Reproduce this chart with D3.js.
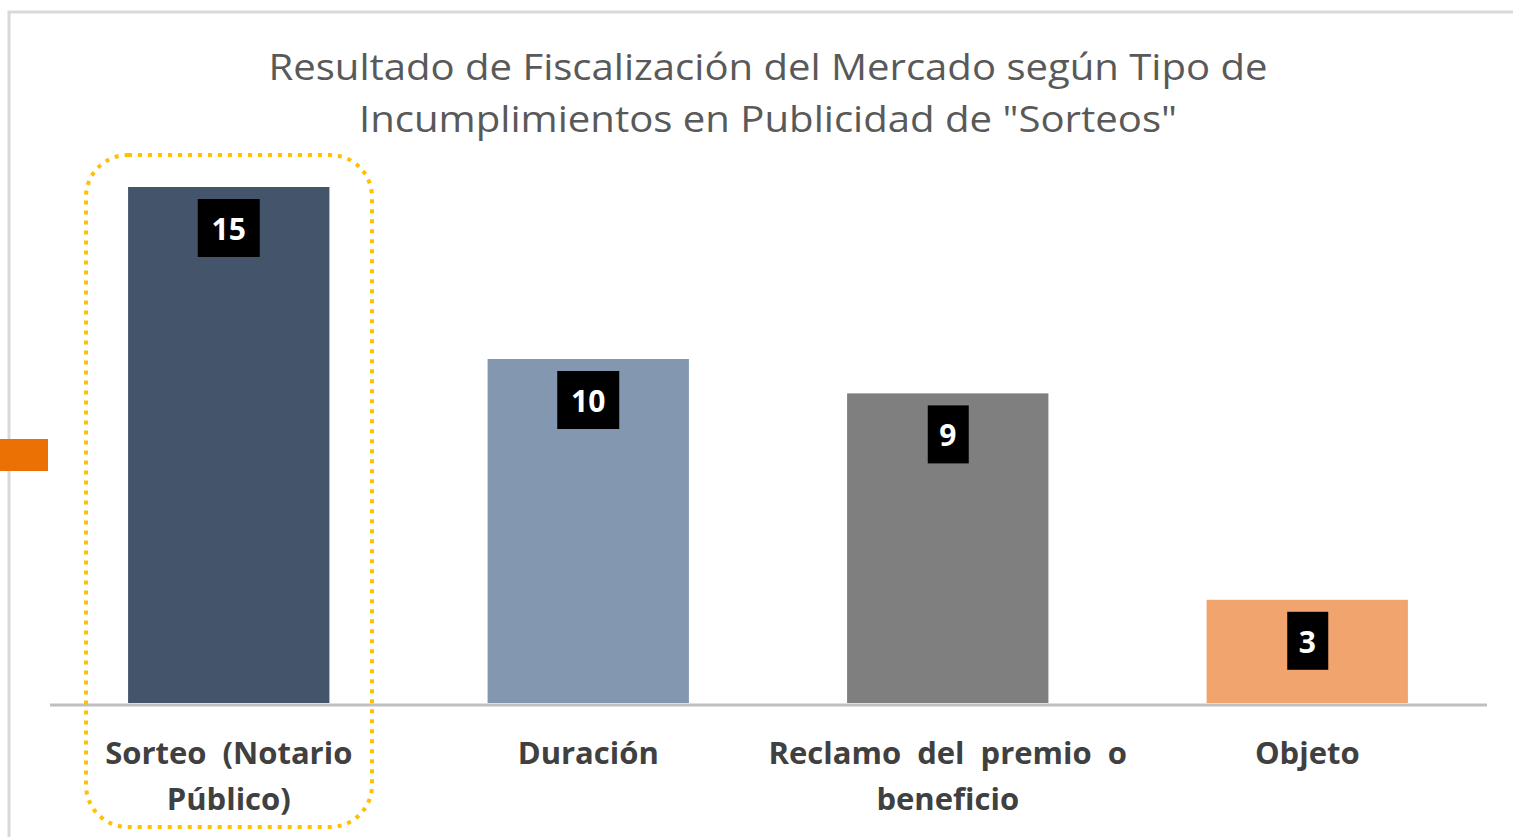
<!DOCTYPE html>
<html>
<head>
<meta charset="utf-8">
<script src="https://cdn.jsdelivr.net/npm/d3@7"></script>
<style>
  html, body { margin: 0; padding: 0; background: #fff; overflow: hidden; }
  svg { display: block; }
</style>
</head>
<body>
<script>
// chart data
var categories = [["Sorteo (Notario", "Público)"], ["Duración"], ["Reclamo del premio o", "beneficio"], ["Objeto"]];
var values = [15, 10, 9, 3];
var barColors = ["#44546A", "#8497B0", "#7F7F7F", "#F2A46F"];
var titleLines = ["Resultado de Fiscalización del Mercado según Tipo de", "Incumplimientos en Publicidad de \"Sorteos\""];

var width = 1513, height = 837;
var baseY = 703;

var svg = d3.select('body').append('svg').attr('width', width).attr('height', height);

// chart frame (soft gray border, runs off right/bottom)
svg.append('rect')
  .attr('x', 9).attr('y', 12)
  .attr('width', width).attr('height', height)
  .attr('fill', '#fff')
  .attr('stroke', '#d9d9d9')
  .attr('stroke-width', 3);

// orange marker on the left edge
svg.append('rect')
  .attr('x', 0).attr('y', 439).attr('width', 48).attr('height', 32)
  .attr('fill', '#EC7105');

var x = d3.scaleBand()
  .domain(d3.range(values.length))
  .range([49, 1487])
  .paddingInner(0.44)
  .paddingOuter(0.22);

var y = d3.scaleLinear()
  .domain([0, 15])
  .range([baseY, 187]);

// title
svg.append('g').selectAll('text')
  .data(titleLines)
  .enter()
  .append('text')
  .attr('x', 768)
  .attr('y', function(d, i) { return 80 + i * 52; })
  .attr('text-anchor', 'middle')
  .attr('font-family', 'Open Sans, sans-serif')
  .attr('font-size', 36)
  .attr('fill', '#595959')
  .attr('textLength', function(d, i) { return i == 0 ? 999 : 818; })
  .attr('lengthAdjust', 'spacingAndGlyphs')
  .text(function(d) { return d; });

// bars
svg.selectAll('rect.bar')
  .data(values)
  .enter()
  .append('rect')
  .attr('class', 'bar')
  .attr('x', function(d, i) { return x(i); })
  .attr('y', function(d) { return y(d); })
  .attr('width', x.bandwidth())
  .attr('height', function(d) { return baseY - y(d); })
  .attr('fill', function(d, i) { return barColors[i]; });

// x axis line
svg.append('line')
  .attr('x1', 50).attr('x2', 1487)
  .attr('y1', baseY + 2).attr('y2', baseY + 2)
  .attr('stroke', '#BFBFBF')
  .attr('stroke-width', 3);

// value labels in black boxes
var lbl = svg.selectAll('g.lbl')
  .data(values)
  .enter()
  .append('g')
  .attr('class', 'lbl')
  .attr('transform', function(d, i) {
    return 'translate(' + (x(i) + x.bandwidth() / 2) + ',' + (y(d) + 12) + ')';
  });

lbl.append('rect')
  .attr('x', function(d) { return String(d).length > 1 ? -31 : -20; })
  .attr('width', function(d) { return String(d).length > 1 ? 62 : 41; })
  .attr('height', 58)
  .attr('fill', '#000');

lbl.append('text')
  .attr('y', 41)
  .attr('text-anchor', 'middle')
  .attr('font-family', 'Open Sans, sans-serif')
  .attr('font-weight', 'bold')
  .attr('font-size', 30)
  .attr('fill', '#fff')
  .text(function(d) { return d; });

// category labels
var cat = svg.selectAll('text.cat')
  .data(categories)
  .enter()
  .append('text')
  .attr('class', 'cat')
  .attr('x', function(d, i) { return x(i) + x.bandwidth() / 2; })
  .attr('y', 764)
  .attr('text-anchor', 'middle')
  .attr('font-family', 'Open Sans, sans-serif')
  .attr('font-weight', 'bold')
  .attr('font-size', 31)
  .attr('word-spacing', 8)
  .attr('fill', '#404040');

cat.selectAll('tspan')
  .data(function(d) { return d; })
  .enter()
  .append('tspan')
  .attr('x', function() { return d3.select(this.parentNode).attr('x'); })
  .attr('dy', function(d, i) { return i == 0 ? 0 : 46; })
  .text(function(d) { return d; });

// dotted highlight around the first category
svg.append('rect')
  .attr('x', 86).attr('y', 155)
  .attr('width', 286).attr('height', 672)
  .attr('rx', 42).attr('ry', 42)
  .attr('fill', 'none')
  .attr('stroke', '#FFC000')
  .attr('stroke-width', 4)
  .attr('stroke-dasharray', '4 6');
</script>
</body>
</html>
